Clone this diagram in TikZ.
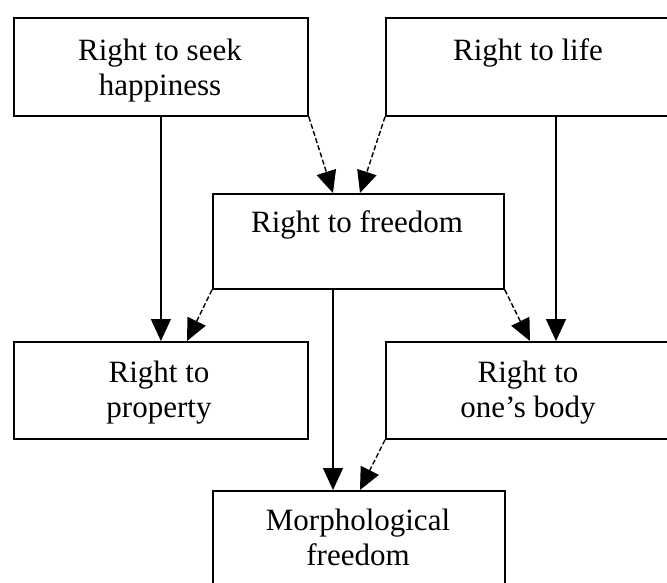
\documentclass[tikz,border=0pt]{standalone}
\usepackage{fontspec}
\setmainfont{Liberation Serif}
\usetikzlibrary{arrows.meta,calc}
\begin{document}
\begin{tikzpicture}[x=1pt,y=-1pt,
  box/.style={draw=black,line width=1.8pt,rectangle,inner sep=0pt,anchor=north west},
  lbl/.style={anchor=north,inner sep=0pt,align=center,font=\fontsize{31pt}{35pt}\selectfont},
  conn/.style={line width=1.4pt,-{Triangle[width=20pt,length=22pt]}},
  dconn/.style={conn,dash pattern=on 5pt off 2.5pt}]
\useasboundingbox (0,0) rectangle (667,582);
\clip (0,0) rectangle (667,582);
% boxes
\node[box,minimum width=294pt,minimum height=98pt] (hap) at (13,17) {};
\node[box,minimum width=287pt,minimum height=98pt] (life) at (385,17) {};
\node[box,minimum width=291pt,minimum height=95pt] (free) at (212,193) {};
\node[box,minimum width=294pt,minimum height=97pt] (prop) at (13,341) {};
\node[box,minimum width=287pt,minimum height=97pt] (body) at (385,341) {};
\node[box,minimum width=292pt,minimum height=120pt] (morph) at (212,490) {};
% labels
\node[lbl] (haptxt) at (160,38.6) {Right to seek\\happiness};
\node[lbl] (lifetxt) at (528,38.6) {Right to life};
\node[lbl] (freetxt) at (357,210.6) {Right to freedom};
\node[lbl] (proptxt) at (159,360.6) {Right to\\property};
\node[lbl] (bodytxt) at (528,360.6) {Right to\\one’s body};
\node[lbl] (morphtxt) at (358,508.6) {Morphological\\freedom};
% connectors
\draw[conn] (hap.south) -- (prop.north);
\draw[dconn] (hap.south east) -- ([xshift=121pt]free.north west);
\draw[dconn] (life.south west) -- ([xshift=148pt]free.north west);
\draw[conn] ([xshift=171pt]life.south west) -- ([xshift=171pt]body.north west);
\draw[dconn] (free.south west) -- ([xshift=174pt]prop.north west);
\draw[dconn] (free.south east) -- ([xshift=145pt]body.north west);
\draw[conn] ([xshift=121pt]free.south west) -- ([xshift=121pt]morph.north west);
\draw[dconn] (body.south west) -- ([xshift=148pt]morph.north west);
\end{tikzpicture}
\end{document}
